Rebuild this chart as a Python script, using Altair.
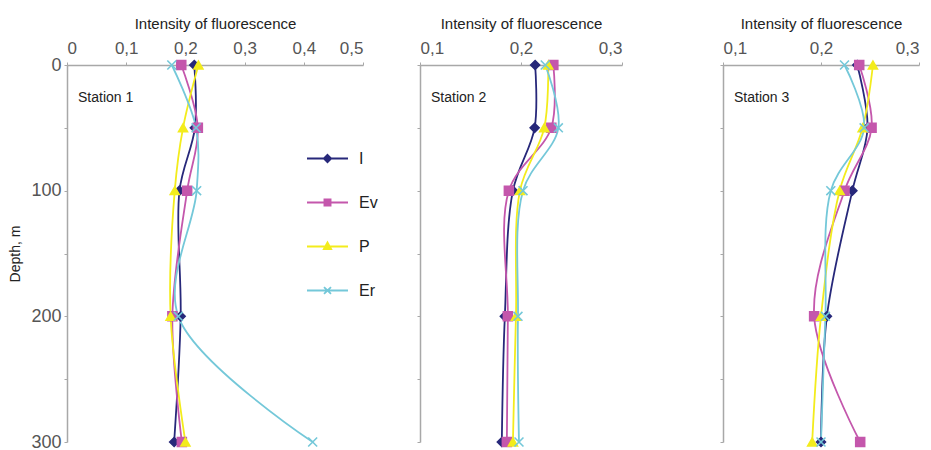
import altair as alt
import pandas as pd

FONT = "Liberation Sans, Arial, sans-serif"

depths = [0, 50, 100, 200, 300]
series = ["I", "Ev", "P", "Er"]
colors = ["#27287A", "#C457AC", "#F3EC1C", "#74C8D9"]

# Station 1
s1_I = [0.215, 0.216, 0.190, 0.192, 0.181]
s1_Ev = [0.193, 0.221, 0.203, 0.178, 0.194]
s1_P = [0.222, 0.196, 0.182, 0.175, 0.200]
s1_Er = [0.177, 0.218, 0.219, 0.188, 0.415]

# Station 2
s2_I = [0.214, 0.2135, 0.192, 0.184, 0.181]
s2_Ev = [0.232, 0.230, 0.188, 0.187, 0.186]
s2_P = [0.227, 0.223, 0.199, 0.195, 0.192]
s2_Er = [0.224, 0.237, 0.202, 0.197, 0.198]

# Station 3
s3_I = [0.237, 0.2475, 0.232, 0.206, 0.200]
s3_Ev = [0.239, 0.2516, 0.224, 0.193, 0.240]
s3_P = [0.253, 0.2425, 0.219, 0.200, 0.191]
s3_Er = [0.224, 0.244, 0.210, 0.2045, 0.200]

x_ticks_1 = [0, 0.1, 0.2, 0.3, 0.4, 0.5]
x_ticks_23 = [0.1, 0.2, 0.3]
y_ticks = [0, 50, 100, 150, 200, 250, 300]

XPATH = "M-1,-1L1,1M-1,1L1,-1"
marker_shapes = ["diamond", "square", "triangle-up", XPATH]
legend_shapes = [
    "M-1,0L1,0M0,-0.18L0.18,0L0,0.18L-0.18,0Z",
    "M-1,0L1,0M-0.15,-0.15L0.15,-0.15L0.15,0.15L-0.15,0.15Z",
    "M-1,0L1,0M0,-0.2L0.18,0.13L-0.18,0.13Z",
    "M-1,0L1,0M-0.17,-0.17L0.17,0.17M-0.17,0.17L0.17,-0.17",
]


def make_df(vals):
    rows = []
    for k, (s, v) in enumerate(zip(series, vals)):
        for d, x in zip(depths, v):
            rows.append({"series": s, "depth": d, "value": x, "k": k})
    return pd.DataFrame(rows)


LABEL_EXPR = "datum.value == 0 ? '0' : replace(format(datum.value, '.1f'), '.', ',')"


def panel(df, xdom, xvals, axis_len, view_width, label, first):
    x = alt.X(
        "value:Q",
        scale=alt.Scale(domain=xdom, nice=False, zero=False, range=[0, axis_len]),
        axis=alt.Axis(
            orient="top", values=xvals, title="Intensity of fluorescence",
            labelExpr=LABEL_EXPR, grid=False, tickSize=3, labelPadding=5,
            labelFontSize=17, titleFontSize=15, titlePadding=8,
        ),
    )
    if first:
        yaxis = alt.Axis(
            values=y_ticks, title="Depth, m", grid=False, tickSize=3,
            labelExpr="datum.value % 100 == 0 ? datum.label : ''",
            labelFontSize=18, titleFontSize=14, titlePadding=8, labelPadding=3,
        )
    else:
        yaxis = alt.Axis(values=y_ticks, title=None, grid=False, tickSize=3, labels=False)
    y = alt.Y("depth:Q", scale=alt.Scale(domain=[0, 300], reverse=True, nice=False), axis=yaxis)

    cscale = alt.Scale(domain=series, range=colors)
    lines = alt.Chart(df).mark_line(interpolate="catmull-rom", strokeWidth=1.8).encode(
        x=x, y=y,
        color=alt.Color("series:N", scale=cscale, legend=None),
        order=alt.Order("depth:Q"),
    )
    points = alt.Chart(df).mark_point(filled=True, size=80, strokeWidth=1.6, opacity=1).encode(
        x=x, y=y,
        fill=alt.Fill("series:N", scale=cscale, legend=None),
        stroke=alt.Stroke("series:N", scale=cscale, legend=None),
        shape=alt.Shape("series:N", scale=alt.Scale(domain=series, range=marker_shapes), legend=None),
        order=alt.Order("k:Q"),
    )
    text = alt.Chart(pd.DataFrame({"t": [label]})).mark_text(
        align="left", baseline="middle", fontSize=14, font=FONT, color="#222"
    ).encode(x=alt.value(11), y=alt.value(33), text="t:N")

    layers = [lines, points, text]
    if first:
        leg = alt.Legend(
            orient="none", legendX=239, legendY=72, title=None, padding=0,
            symbolSize=1681, symbolStrokeWidth=1.8, rowPadding=14,
            labelFont=FONT, labelFontSize=16, labelColor="#222", labelOffset=10,
            symbolOpacity=1,
        )
        legend_layer = alt.Chart(df).mark_point(filled=True, opacity=0).encode(
            x=x, y=y,
            fill=alt.Fill("series:N", scale=cscale, legend=leg),
            stroke=alt.Stroke("series:N", scale=cscale, legend=leg),
            shape=alt.Shape("series:N", scale=alt.Scale(domain=series, range=legend_shapes), legend=leg),
        )
        layers.append(legend_layer)

    ch = alt.layer(*layers).resolve_scale(
        fill="independent", stroke="independent", shape="independent", color="independent"
    ).properties(width=view_width, height=377)
    return ch


p1 = panel(make_df([s1_I, s1_Ev, s1_P, s1_Er]), [0, 0.5], x_ticks_1, 296, 296, "Station 1", True)
p2 = panel(make_df([s2_I, s2_Ev, s2_P, s2_Er]), [0.1, 0.3], x_ticks_23, 202, 246, "Station 2", False)
p3 = panel(make_df([s3_I, s3_Ev, s3_P, s3_Er]), [0.1, 0.3], x_ticks_23, 196, 196, "Station 3", False)

chart = alt.hconcat(p1, p2, p3, spacing=57, bounds="flush").properties(
    padding={"left": 8, "top": 16, "right": 0, "bottom": 0},
).configure_view(stroke=None).configure_axis(
    domainColor="#A8A8A8", domainWidth=1.5, tickColor="#A8A8A8", tickWidth=1,
    labelColor="#555555", titleColor="#222222", labelFont=FONT, titleFont=FONT,
    titleFontWeight="normal",
).configure_legend(labelFont=FONT)

chart.save("out.html", embed_options={"renderer": "svg", "actions": False})
